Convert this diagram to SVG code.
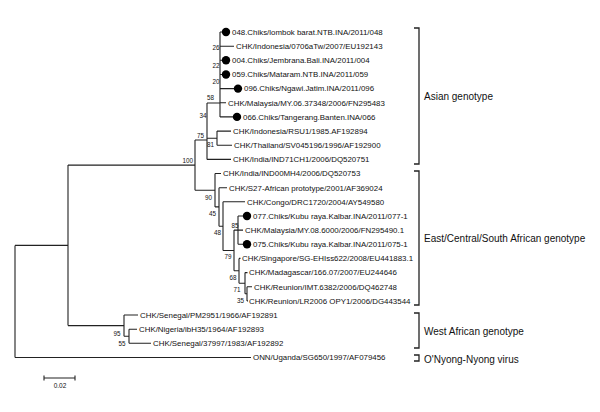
<svg xmlns="http://www.w3.org/2000/svg" width="600" height="412" viewBox="0 0 600 412">
<style>
text{font-family:"Liberation Sans",Arial,sans-serif;fill:#111}
.leaf{font-size:7.9px}
.bs{font-size:6.3px;text-anchor:end}
.grp{font-size:10px}
.ln{fill:none;stroke:#222;stroke-width:1.1}
.br{fill:none;stroke:#222;stroke-width:1.3}
.dot{fill:#000}
</style>
<rect width="600" height="412" fill="#fff"/>
<g id="connectors" class="ln">
<path d="M15,245.4V357.5M15,245.4H68M15,357.5H251"/>
<path d="M68,165.1V325.6M68,165.1H195M68,325.6H124"/>
<path d="M124,315V336.3M124,315H138M124,336.3H129M129,329.2V343.3M129,329.2H137M129,343.3H151"/>
<path d="M195,140V190.2M195,140H207M195,190.2H215"/>
<path d="M207,103V159.4M207,103H220M207,138.2H217M207,159.4H231"/>
<path d="M217,131.1V145.2M217,131.1H231M217,145.2H232"/>
<path d="M220,32V116.9M220,32H222M220,46.2H234M220,60.3H222M220,74.5H222M220,88.6H234M220,102.8H226M220,116.9H233"/>
<path d="M215,173.5V206.9M215,173.5H221M215,206.9H219"/>
<path d="M219,187.7V226.2M219,187.7H227M219,226.2H223"/>
<path d="M223,201.8V250.5M223,201.8H245M223,250.5H234"/>
<path d="M234,230.1V270.8M234,230.1H238M234,270.8H239"/>
<path d="M238,216V244.3M238,216H243M238,230.1H243M238,244.3H243"/>
<path d="M239,258.4V283.2M239,258.4H240.5M239,283.2H245"/>
<path d="M245,272.6V293.8M245,272.6H247.5M245,293.8H247"/>
<path d="M247,286.7V300.9M247,286.7H252M247,300.9H248"/>
</g>
<g id="bootstrap">
<text class="bs" x="193" y="163">100</text>
<text class="bs" x="204" y="138">75</text>
<text class="bs" x="206.5" y="118">34</text>
<text class="bs" x="214" y="147">81</text>
<text class="bs" x="214" y="100">58</text>
<text class="bs" x="219.5" y="84">20</text>
<text class="bs" x="219.5" y="68">22</text>
<text class="bs" x="219.5" y="50">26</text>
<text class="bs" x="212" y="200">90</text>
<text class="bs" x="216" y="216">45</text>
<text class="bs" x="221" y="235">48</text>
<text class="bs" x="238.5" y="228">85</text>
<text class="bs" x="231.5" y="259">79</text>
<text class="bs" x="236.5" y="280">68</text>
<text class="bs" x="240.5" y="292">71</text>
<text class="bs" x="244" y="303">35</text>
<text class="bs" x="120.5" y="336">95</text>
<text class="bs" x="125.5" y="346">55</text>
</g>
<g id="n048"><circle class="dot" cx="226" cy="32" r="4.2"/><text class="leaf" x="232" y="34.8">048.Chiks/lombok barat.NTB.INA/2011/048</text></g>
<g id="n0706"><text class="leaf" x="236" y="49">CHK/Indonesia/0706aTw/2007/EU192143</text></g>
<g id="n004"><circle class="dot" cx="226" cy="60.3" r="4.2"/><text class="leaf" x="232" y="63.1">004.Chiks/Jembrana.Bali.INA/2011/004</text></g>
<g id="n059"><circle class="dot" cx="226" cy="74.5" r="4.2"/><text class="leaf" x="232" y="77.3">059.Chiks/Mataram.NTB.INA/2011/059</text></g>
<g id="n096"><circle class="dot" cx="238" cy="88.6" r="4.2"/><text class="leaf" x="244" y="91.4">096.Chiks/Ngawi.Jatim.INA/2011/096</text></g>
<g id="nMY06"><text class="leaf" x="228" y="105.6">CHK/Malaysia/MY.06.37348/2006/FN295483</text></g>
<g id="n066"><circle class="dot" cx="237" cy="116.9" r="4.2"/><text class="leaf" x="243" y="119.7">066.Chiks/Tangerang.Banten.INA/066</text></g>
<g id="nRSU1"><text class="leaf" x="233" y="133.9">CHK/Indonesia/RSU1/1985.AF192894</text></g>
<g id="nSV"><text class="leaf" x="234" y="148">CHK/Thailand/SV045196/1996/AF192900</text></g>
<g id="nIND71"><text class="leaf" x="233" y="162.2">CHK/India/IND71CH1/2006/DQ520751</text></g>
<g id="nIND00"><text class="leaf" x="223" y="176.3">CHK/India/IND00MH4/2006/DQ520753</text></g>
<g id="nS27"><text class="leaf" x="229" y="190.5">CHK/S27-African prototype/2001/AF369024</text></g>
<g id="nCongo"><text class="leaf" x="247" y="204.6">CHK/Congo/DRC1720/2004/AY549580</text></g>
<g id="n077"><circle class="dot" cx="247" cy="216" r="4.2"/><text class="leaf" x="253" y="218.8">077.Chiks/Kubu raya.Kalbar.INA/2011/077-1</text></g>
<g id="nMY08"><text class="leaf" x="245" y="232.9">CHK/Malaysia/MY.08.6000/2006/FN295490.1</text></g>
<g id="n075"><circle class="dot" cx="247" cy="244.3" r="4.2"/><text class="leaf" x="253" y="247.1">075.Chiks/Kubu raya.Kalbar.INA/2011/075-1</text></g>
<g id="nSG"><text class="leaf" x="242" y="261.2">CHK/Singapore/SG-EHIss622/2008/EU441883.1</text></g>
<g id="nMad"><text class="leaf" x="249" y="275.4">CHK/Madagascar/166.07/2007/EU244646</text></g>
<g id="nIMT"><text class="leaf" x="254" y="289.5">CHK/Reunion/IMT.6382/2006/DQ462748</text></g>
<g id="nLR"><text class="leaf" x="249" y="303.7">CHK/Reunion/LR2006 OPY1/2006/DG443544</text></g>
<g id="nPM"><text class="leaf" x="140" y="317.8">CHK/Senegal/PM2951/1966/AF192891</text></g>
<g id="nNig"><text class="leaf" x="139" y="332">CHK/Nigeria/ibH35/1964/AF192893</text></g>
<g id="nSen"><text class="leaf" x="153" y="346.1">CHK/Senegal/37997/1983/AF192892</text></g>
<g id="nONN"><text class="leaf" x="253" y="360.3">ONN/Uganda/SG650/1997/AF079456</text></g>
<g id="brackets" class="br">
<path d="M414,28H419V164H414"/>
<path d="M414,171H419V305H414"/>
<path d="M414,313H419V348H414"/>
<path d="M414,355H419V361H414"/>
</g>
<g id="labels">
<text class="grp" x="424" y="99.5">Asian genotype</text>
<text class="grp" x="424" y="241.5">East/Central/South African genotype</text>
<text class="grp" x="424" y="334.5">West African genotype</text>
<text class="grp" x="424" y="362.5">O'Nyong-Nyong virus</text>
</g>
<g id="scale">
<path class="ln" d="M44,378H75M44,375.5V380.5M75,375.5V380.5"/>
<text x="60" y="388" font-size="6.5" text-anchor="middle">0.02</text>
</g>
</svg>
